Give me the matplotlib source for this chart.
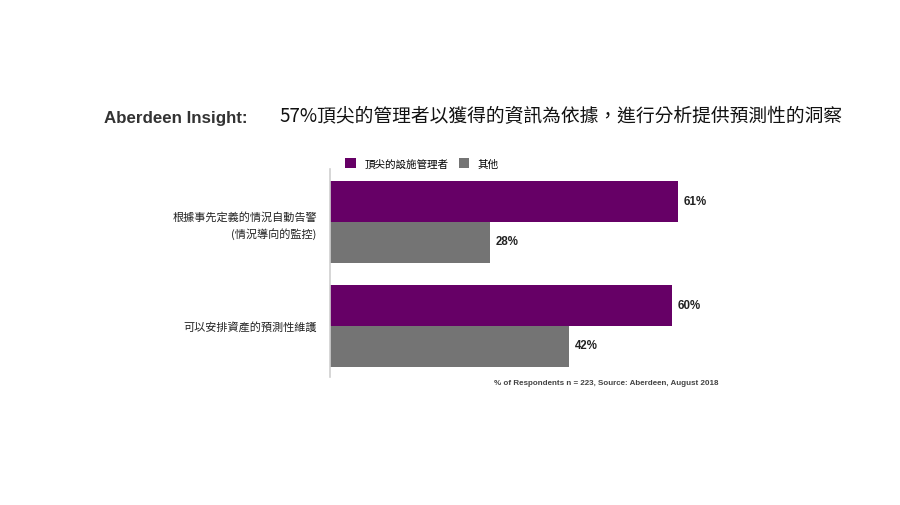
import matplotlib.pyplot as plt
import numpy as np

plt.rcParams['font.family'] = ['Noto Sans CJK TC', 'DejaVu Sans']

# data
categories = ['根據事先定義的情況自動告警\n(情況導向的監控)', '可以安排資產的預測性維護']
series_names = ['頂尖的設施管理者', '其他']
top_values = [61, 60]
other_values = [28, 42]
title_en = 'Aberdeen Insight:'
title_zh = '57%頂尖的管理者以獲得的資訊為依據，進行分析提供預測性的洞察'
source_note = '% of Respondents n = 223, Source: Aberdeen, August 2018'

purple = '#660066'
grey = '#747474'

fig = plt.figure(figsize=(9, 5.06), dpi=100)
W, H = 900, 506

# axes placed in pixel coordinates of the reference
ax = fig.add_axes([330 / W, 1 - 378 / H, 570 / W, 208 / H])

y = np.arange(len(categories))
h = 0.39
ax.barh(y - h / 2 + 0.01, top_values, height=h, color=purple, label=series_names[0])
ax.barh(y + h / 2 + 0.01, other_values, height=h, color=grey, label=series_names[1])

lbl_font = ['Liberation Sans', 'DejaVu Sans']
for yi, v in zip(y, top_values):
    ax.text(v + 1.0, yi - h / 2, f'{v}%', va='center', ha='left',
            fontsize=8.3, fontweight='bold', family=lbl_font, color='#222222')
for yi, v in zip(y, other_values):
    ax.text(v + 1.0, yi + h / 2, f'{v}%', va='center', ha='left',
            fontsize=8.3, fontweight='bold', family=lbl_font, color='#222222')

ax.set_xlim(0, 100)
ax.set_ylim(1.5, -0.5)
ax.set_yticks(y)
ax.set_yticklabels(categories, fontsize=8, ha='right', color='#222222', linespacing=1.6)
ax.tick_params(axis='y', length=0, pad=9.5)
ax.set_xticks([])
for s in ['top', 'right', 'bottom']:
    ax.spines[s].set_visible(False)
ax.spines['left'].set_color('#d0d0d0')
ax.spines['left'].set_linewidth(1.2)
ax.patch.set_alpha(0)

# legend
leg = fig.legend(loc='upper left', bbox_to_anchor=(341 / W, 1 - 155 / H), ncol=2,
                 frameon=False, fontsize=7.6, handlelength=1.0, handleheight=1.0,
                 handletextpad=0.8, columnspacing=1.0, borderaxespad=0)

# titles
fig.text(104 / W, 1 - 118 / H, title_en, fontsize=12.2, fontweight='bold',
         family=lbl_font, color='#333333', va='center', ha='left')
fig.text(279 / W, 1 - 117 / H, title_zh, fontsize=13.5, color='#111111',
         va='center', ha='left')

fig.text(494 / W, 1 - 384 / H, source_note, fontsize=5.8, fontweight='bold',
         family=lbl_font, color='#444444', va='center', ha='left')

fig.savefig('out.png', dpi=100)
